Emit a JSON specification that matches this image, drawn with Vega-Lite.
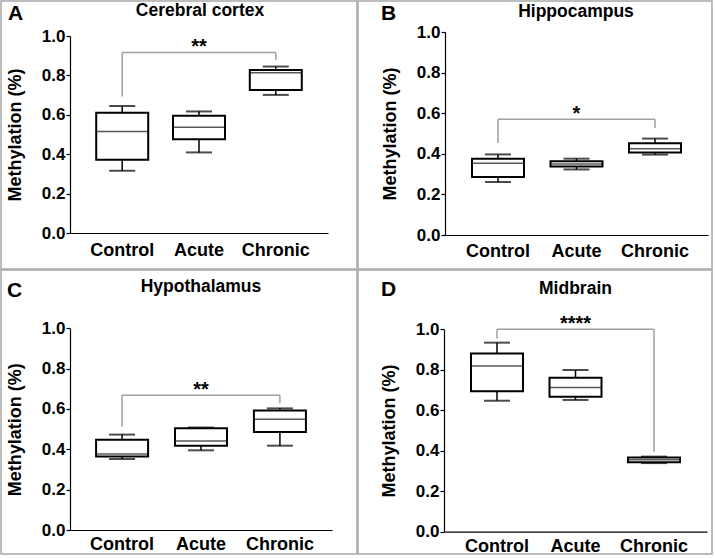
{
  "$schema": "https://vega.github.io/schema/vega-lite/v6.json",
  "padding": 0,
  "spacing": -2,
  "datasets": {
    "box": [
      {"panel": "A", "group": "Control", "min": 0.316, "q1": 0.372, "median": 0.515, "q3": 0.611, "max": 0.645},
      {"panel": "A", "group": "Acute", "min": 0.409, "q1": 0.476, "median": 0.537, "q3": 0.595, "max": 0.617},
      {"panel": "A", "group": "Chronic", "min": 0.701, "q1": 0.726, "median": 0.814, "q3": 0.828, "max": 0.845},
      {"panel": "B", "group": "Control", "min": 0.261, "q1": 0.286, "median": 0.353, "q3": 0.376, "max": 0.397},
      {"panel": "B", "group": "Acute", "min": 0.323, "q1": 0.337, "median": 0.350, "q3": 0.363, "max": 0.376},
      {"panel": "B", "group": "Chronic", "min": 0.396, "q1": 0.407, "median": 0.425, "q3": 0.452, "max": 0.475},
      {"panel": "C", "group": "Control", "min": 0.352, "q1": 0.364, "median": 0.377, "q3": 0.448, "max": 0.473},
      {"panel": "C", "group": "Acute", "min": 0.395, "q1": 0.418, "median": 0.441, "q3": 0.504, "max": 0.508},
      {"panel": "C", "group": "Chronic", "min": 0.418, "q1": 0.486, "median": 0.549, "q3": 0.592, "max": 0.603},
      {"panel": "D", "group": "Control", "min": 0.647, "q1": 0.694, "median": 0.819, "q3": 0.880, "max": 0.934},
      {"panel": "D", "group": "Acute", "min": 0.651, "q1": 0.667, "median": 0.713, "q3": 0.761, "max": 0.799},
      {"panel": "D", "group": "Chronic", "min": 0.339, "q1": 0.343, "median": 0.355, "q3": 0.366, "max": 0.371}
    ],
    "brk": [
      {"panel": "A", "from": "Control", "to": "Chronic", "mid": "Acute", "level": 0.916, "left": 0.693, "right": 0.878, "label": "**"},
      {"panel": "B", "from": "Control", "to": "Chronic", "mid": "Acute", "level": 0.570, "left": 0.453, "right": 0.527, "label": "*"},
      {"panel": "C", "from": "Control", "to": "Chronic", "mid": "Acute", "level": 0.668, "left": 0.512, "right": 0.628, "label": "**"},
      {"panel": "D", "from": "Control", "to": "Chronic", "mid": "Acute", "level": 1.0, "left": 0.955, "right": 0.395, "label": "****"}
    ]
  },
  "vconcat": [
    {
      "spacing": -2,
      "hconcat": [
        {
          "title": {"text": "A", "anchor": "start", "frame": "group", "offset": -24, "dx": 7, "fontSize": 21},
          "vconcat": [
            {
              "width": 356, "height": 268,
              "title": {"text": "Cerebral cortex", "anchor": "middle", "frame": "group", "offset": -18.3, "dx": 21, "fontSize": 17.5},
              "layer": [
                {
                  "data": {"name": "box"},
                  "transform": [{"filter": "datum.panel == 'A'"}],
                  "encoding": {
                    "x": {"field": "group", "type": "nominal", "title": null,
                          "scale": {"domain": ["Control", "Acute", "Chronic"], "range": [69, 327], "paddingInner": 0, "paddingOuter": 0.18},
                          "axis": {"offset": -36, "labelPadding": 8}}
                  },
                  "layer": [
                    {"mark": {"type": "rule", "color": "black", "strokeWidth": 1.5},
                     "encoding": {"y": {"field": "min", "type": "quantitative", "title": "Methylation (%)",
                                        "scale": {"domain": [0, 1], "range": [232, 35], "nice": false, "zero": false},
                                        "axis": {"offset": -69, "values": [0, 0.2, 0.4, 0.6, 0.8, 1], "format": ".1f"}},
                                  "y2": {"field": "max"}}},
                    {"mark": {"type": "bar", "fill": "white", "stroke": "black", "strokeWidth": 2, "size": 52},
                     "encoding": {"y": {"field": "q1", "type": "quantitative", "title": "Methylation (%)"}, "y2": {"field": "q3"}}},
                    {"mark": {"type": "tick", "color": "#111111", "thickness": 1.5, "size": 52},
                     "encoding": {"y": {"field": "median", "type": "quantitative", "title": "Methylation (%)"}}},
                    {"mark": {"type": "tick", "color": "black", "thickness": 2, "size": 26},
                     "encoding": {"y": {"field": "max", "type": "quantitative", "title": "Methylation (%)"}}},
                    {"mark": {"type": "tick", "color": "black", "thickness": 2, "size": 26},
                     "encoding": {"y": {"field": "min", "type": "quantitative", "title": "Methylation (%)"}}}
                  ]
                },
                {
                  "data": {"name": "brk"},
                  "transform": [{"filter": "datum.panel == 'A'"}],
                  "layer": [
                    {"mark": {"type": "rule", "color": "#a0a0a0", "strokeWidth": 1.5},
                     "encoding": {"x": {"field": "from", "type": "nominal", "title": null}, "x2": {"field": "to"},
                                  "y": {"field": "level", "type": "quantitative", "title": "Methylation (%)"}}},
                    {"mark": {"type": "rule", "color": "#a0a0a0", "strokeWidth": 1.5},
                     "encoding": {"x": {"field": "from", "type": "nominal", "title": null},
                                  "y": {"field": "left", "type": "quantitative", "title": "Methylation (%)"}, "y2": {"field": "level"}}},
                    {"mark": {"type": "rule", "color": "#a0a0a0", "strokeWidth": 1.5},
                     "encoding": {"x": {"field": "to", "type": "nominal", "title": null},
                                  "y": {"field": "right", "type": "quantitative", "title": "Methylation (%)"}, "y2": {"field": "level"}}},
                    {"mark": {"type": "text", "fontSize": 20, "fontWeight": "bold", "font": "Liberation Sans", "baseline": "alphabetic", "dy": 0, "color": "black"},
                     "encoding": {"x": {"field": "mid", "type": "nominal", "title": null},
                                  "y": {"field": "level", "type": "quantitative", "title": "Methylation (%)"},
                                  "text": {"field": "label"}}}
                  ]
                }
              ]
            }
          ]
        },
        {
          "title": {"text": "B", "anchor": "start", "frame": "group", "offset": -24, "dx": 23, "fontSize": 21},
          "vconcat": [
            {
              "width": 354, "height": 268,
              "title": {"text": "Hippocampus", "anchor": "middle", "frame": "group", "offset": -19.7, "dx": 41, "fontSize": 17.5},
              "layer": [
                {
                  "data": {"name": "box"},
                  "transform": [{"filter": "datum.panel == 'B'"}],
                  "encoding": {
                    "x": {"field": "group", "type": "nominal", "title": null,
                          "scale": {"domain": ["Control", "Acute", "Chronic"], "range": [87, 350], "paddingInner": 0, "paddingOuter": 0.175},
                          "axis": {"offset": -34, "labelPadding": 7}}
                  },
                  "layer": [
                    {"mark": {"type": "rule", "color": "black", "strokeWidth": 1.5},
                     "encoding": {"y": {"field": "min", "type": "quantitative", "title": "Methylation (%)",
                                        "scale": {"domain": [0, 1], "range": [234, 31], "nice": false, "zero": false},
                                        "axis": {"offset": -87, "values": [0, 0.2, 0.4, 0.6, 0.8, 1], "format": ".1f"}},
                                  "y2": {"field": "max"}}},
                    {"mark": {"type": "bar", "fill": "white", "stroke": "black", "strokeWidth": 2, "size": 52},
                     "encoding": {"y": {"field": "q1", "type": "quantitative", "title": "Methylation (%)"}, "y2": {"field": "q3"}}},
                    {"mark": {"type": "tick", "color": "#111111", "thickness": 1.5, "size": 52},
                     "encoding": {"y": {"field": "median", "type": "quantitative", "title": "Methylation (%)"}}},
                    {"mark": {"type": "tick", "color": "black", "thickness": 2, "size": 26},
                     "encoding": {"y": {"field": "max", "type": "quantitative", "title": "Methylation (%)"}}},
                    {"mark": {"type": "tick", "color": "black", "thickness": 2, "size": 26},
                     "encoding": {"y": {"field": "min", "type": "quantitative", "title": "Methylation (%)"}}}
                  ]
                },
                {
                  "data": {"name": "brk"},
                  "transform": [{"filter": "datum.panel == 'B'"}],
                  "layer": [
                    {"mark": {"type": "rule", "color": "#a0a0a0", "strokeWidth": 1.5},
                     "encoding": {"x": {"field": "from", "type": "nominal", "title": null}, "x2": {"field": "to"},
                                  "y": {"field": "level", "type": "quantitative", "title": "Methylation (%)"}}},
                    {"mark": {"type": "rule", "color": "#a0a0a0", "strokeWidth": 1.5},
                     "encoding": {"x": {"field": "from", "type": "nominal", "title": null},
                                  "y": {"field": "left", "type": "quantitative", "title": "Methylation (%)"}, "y2": {"field": "level"}}},
                    {"mark": {"type": "rule", "color": "#a0a0a0", "strokeWidth": 1.5},
                     "encoding": {"x": {"field": "to", "type": "nominal", "title": null},
                                  "y": {"field": "right", "type": "quantitative", "title": "Methylation (%)"}, "y2": {"field": "level"}}},
                    {"mark": {"type": "text", "fontSize": 20, "fontWeight": "bold", "font": "Liberation Sans", "baseline": "alphabetic", "dy": 1, "color": "black"},
                     "encoding": {"x": {"field": "mid", "type": "nominal", "title": null},
                                  "y": {"field": "level", "type": "quantitative", "title": "Methylation (%)"},
                                  "text": {"field": "label"}}}
                  ]
                }
              ]
            }
          ]
        }
      ]
    },
    {
      "spacing": -2,
      "hconcat": [
        {
          "title": {"text": "C", "anchor": "start", "frame": "group", "offset": -31.7, "dx": 6, "fontSize": 21},
          "vconcat": [
            {
              "width": 356, "height": 284,
              "title": {"text": "Hypothalamus", "anchor": "middle", "frame": "group", "offset": -25, "dx": 22, "fontSize": 17.5},
              "layer": [
                {
                  "data": {"name": "box"},
                  "transform": [{"filter": "datum.panel == 'C'"}],
                  "encoding": {
                    "x": {"field": "group", "type": "nominal", "title": null,
                          "scale": {"domain": ["Control", "Acute", "Chronic"], "range": [69, 331], "paddingInner": 0, "paddingOuter": 0.16},
                          "axis": {"offset": -24, "labelPadding": 5}}
                  },
                  "layer": [
                    {"mark": {"type": "rule", "color": "black", "strokeWidth": 1.5},
                     "encoding": {"y": {"field": "min", "type": "quantitative", "title": "Methylation (%)",
                                        "scale": {"domain": [0, 1], "range": [260, 58.3], "nice": false, "zero": false},
                                        "axis": {"offset": -69, "values": [0, 0.2, 0.4, 0.6, 0.8, 1], "format": ".1f"}},
                                  "y2": {"field": "max"}}},
                    {"mark": {"type": "bar", "fill": "white", "stroke": "black", "strokeWidth": 2, "size": 52},
                     "encoding": {"y": {"field": "q1", "type": "quantitative", "title": "Methylation (%)"}, "y2": {"field": "q3"}}},
                    {"mark": {"type": "tick", "color": "#111111", "thickness": 1.5, "size": 52},
                     "encoding": {"y": {"field": "median", "type": "quantitative", "title": "Methylation (%)"}}},
                    {"mark": {"type": "tick", "color": "black", "thickness": 2, "size": 26},
                     "encoding": {"y": {"field": "max", "type": "quantitative", "title": "Methylation (%)"}}},
                    {"mark": {"type": "tick", "color": "black", "thickness": 2, "size": 26},
                     "encoding": {"y": {"field": "min", "type": "quantitative", "title": "Methylation (%)"}}}
                  ]
                },
                {
                  "data": {"name": "brk"},
                  "transform": [{"filter": "datum.panel == 'C'"}],
                  "layer": [
                    {"mark": {"type": "rule", "color": "#a0a0a0", "strokeWidth": 1.5},
                     "encoding": {"x": {"field": "from", "type": "nominal", "title": null}, "x2": {"field": "to"},
                                  "y": {"field": "level", "type": "quantitative", "title": "Methylation (%)"}}},
                    {"mark": {"type": "rule", "color": "#a0a0a0", "strokeWidth": 1.5},
                     "encoding": {"x": {"field": "from", "type": "nominal", "title": null},
                                  "y": {"field": "left", "type": "quantitative", "title": "Methylation (%)"}, "y2": {"field": "level"}}},
                    {"mark": {"type": "rule", "color": "#a0a0a0", "strokeWidth": 1.5},
                     "encoding": {"x": {"field": "to", "type": "nominal", "title": null},
                                  "y": {"field": "right", "type": "quantitative", "title": "Methylation (%)"}, "y2": {"field": "level"}}},
                    {"mark": {"type": "text", "fontSize": 20, "fontWeight": "bold", "font": "Liberation Sans", "baseline": "alphabetic", "dy": 1, "color": "black"},
                     "encoding": {"x": {"field": "mid", "type": "nominal", "title": null},
                                  "y": {"field": "level", "type": "quantitative", "title": "Methylation (%)"},
                                  "text": {"field": "label"}}}
                  ]
                }
              ]
            }
          ]
        },
        {
          "title": {"text": "D", "anchor": "start", "frame": "group", "offset": -30.7, "dx": 23, "fontSize": 21},
          "vconcat": [
            {
              "width": 354, "height": 284,
              "title": {"text": "Midbrain", "anchor": "middle", "frame": "group", "offset": -27.3, "dx": 40.5, "fontSize": 17.5},
              "layer": [
                {
                  "data": {"name": "box"},
                  "transform": [{"filter": "datum.panel == 'D'"}],
                  "encoding": {
                    "x": {"field": "group", "type": "nominal", "title": null,
                          "scale": {"domain": ["Control", "Acute", "Chronic"], "range": [86, 349], "paddingInner": 0, "paddingOuter": 0.175},
                          "axis": {"offset": -22.3, "labelPadding": 6}}
                  },
                  "layer": [
                    {"mark": {"type": "rule", "color": "black", "strokeWidth": 1.5},
                     "encoding": {"y": {"field": "min", "type": "quantitative", "title": "Methylation (%)",
                                        "scale": {"domain": [0, 1], "range": [261.7, 59.3], "nice": false, "zero": false},
                                        "axis": {"offset": -86, "values": [0, 0.2, 0.4, 0.6, 0.8, 1], "format": ".1f"}},
                                  "y2": {"field": "max"}}},
                    {"mark": {"type": "bar", "fill": "white", "stroke": "black", "strokeWidth": 2, "size": 52},
                     "encoding": {"y": {"field": "q1", "type": "quantitative", "title": "Methylation (%)"}, "y2": {"field": "q3"}}},
                    {"mark": {"type": "tick", "color": "#111111", "thickness": 1.5, "size": 52},
                     "encoding": {"y": {"field": "median", "type": "quantitative", "title": "Methylation (%)"}}},
                    {"mark": {"type": "tick", "color": "black", "thickness": 2, "size": 26},
                     "encoding": {"y": {"field": "max", "type": "quantitative", "title": "Methylation (%)"}}},
                    {"mark": {"type": "tick", "color": "black", "thickness": 2, "size": 26},
                     "encoding": {"y": {"field": "min", "type": "quantitative", "title": "Methylation (%)"}}}
                  ]
                },
                {
                  "data": {"name": "brk"},
                  "transform": [{"filter": "datum.panel == 'D'"}],
                  "layer": [
                    {"mark": {"type": "rule", "color": "#a0a0a0", "strokeWidth": 1.5},
                     "encoding": {"x": {"field": "from", "type": "nominal", "title": null}, "x2": {"field": "to"},
                                  "y": {"field": "level", "type": "quantitative", "title": "Methylation (%)"}}},
                    {"mark": {"type": "rule", "color": "#a0a0a0", "strokeWidth": 1.5},
                     "encoding": {"x": {"field": "from", "type": "nominal", "title": null},
                                  "y": {"field": "left", "type": "quantitative", "title": "Methylation (%)"}, "y2": {"field": "level"}}},
                    {"mark": {"type": "rule", "color": "#a0a0a0", "strokeWidth": 1.5},
                     "encoding": {"x": {"field": "to", "type": "nominal", "title": null},
                                  "y": {"field": "right", "type": "quantitative", "title": "Methylation (%)"}, "y2": {"field": "level"}}},
                    {"mark": {"type": "text", "fontSize": 20, "fontWeight": "bold", "font": "Liberation Sans", "baseline": "alphabetic", "dy": 1, "color": "black"},
                     "encoding": {"x": {"field": "mid", "type": "nominal", "title": null},
                                  "y": {"field": "level", "type": "quantitative", "title": "Methylation (%)"},
                                  "text": {"field": "label"}}}
                  ]
                }
              ]
            }
          ]
        }
      ]
    }
  ],
  "config": {
    "view": {"stroke": "#a8a8a8", "strokeWidth": 1.5},
    "font": "Liberation Sans",
    "axis": {"grid": false, "domainColor": "black", "tickColor": "black", "labelColor": "black", "titleColor": "black",
             "labelFont": "Liberation Sans", "titleFont": "Liberation Sans", "labelFontWeight": "bold", "titleFontWeight": "bold",
             "domainWidth": 1.2},
    "axisX": {"labelFontSize": 18, "ticks": false, "labelPadding": 8, "labelAngle": 0},
    "axisY": {"labelFontSize": 17, "titleFontSize": 18, "tickSize": 4, "tickWidth": 1.2, "labelPadding": 1, "titlePadding": 17},
    "title": {"font": "Liberation Sans", "fontWeight": "bold", "color": "black", "baseline": "alphabetic"}
  }
}
